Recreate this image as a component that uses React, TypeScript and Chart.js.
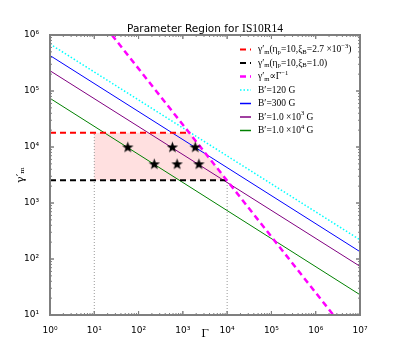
import React, { useEffect, useRef } from "react";
import { Chart, registerables } from "chart.js";
Chart.register(...registerables);

const titleMain = "Parameter Region for ";
const titleTag = "IS10R14";
const xTitle = "Γ";
const yTitle = "γ′ₘ";

const xMin = 1;
const xMax = 1e7;
const yMin = 10;
const yMax = 1e6;
const xTicks = [1, 10, 100, 1e3, 1e4, 1e5, 1e6, 1e7];
const xTickLabels = ["10⁰", "10¹", "10²", "10³", "10⁴", "10⁵", "10⁶", "10⁷"];
const yTicks = [10, 100, 1e3, 1e4, 1e5, 1e6];
const yTickLabels = ["10¹", "10²", "10³", "10⁴", "10⁵", "10⁶"];

// B' lines: endpoints at Γ = 1 and Γ = 1e7
const bLineGamma = [1, 1e7];
const b120Vals = [6.9e5, 220];
const b300Vals = [4.3e5, 135];
const b1e3Vals = [2.3e5, 74];
const b1e4Vals = [7.4e4, 23];

// γ'm ∝ Γ^-1
const invGammaX = [25, 2.5e6];
const invGammaY = [1e6, 10];

// horizontal limits
const redX = [1, 1.4e3];
const redY = [1.8e4, 1.8e4];
const blackX = [1, 1e4];
const blackY = [2.54e3, 2.54e3];

// shaded region
const regionRectX = [10, 10, 1.4e3, 1.4e3];
const regionRectY = [2.54e3, 1.8e4, 1.8e4, 2.54e3];
const regionTriX = [1.4e3, 1.4e3, 1e4];
const regionTriY = [2.54e3, 1.8e4, 2.54e3];

// vertical guides
const guideLeftX = [10, 10];
const guideLeftY = [10, 1.8e4];
const guideRightX = [1e4, 1e4];
const guideRightY = [10, 2.54e3];

// stars
const starsX = [57, 580, 1900, 226, 740, 2300];
const starsY = [1e4, 1e4, 1e4, 5e3, 5e3, 5e3];

const legendLabels = [
  "γ′_{m}(η_{p}=10,ξ_{B}=2.7 ×10^{−3})",
  "γ′_{m}(η_{p}=10,ξ_{B}=1.0)",
  "γ′_{m}∝Γ^{−1}",
  "B′=120 G",
  "B′=300 G",
  "B′=1.0 ×10^{3} G",
  "B′=1.0 ×10^{4} G",
];

const pts = (xs: number[], ys: number[]) => xs.map((x, i) => ({ x, y: ys[i] }));

function makeStar(): HTMLCanvasElement {
  const c = document.createElement("canvas");
  c.width = 13;
  c.height = 13;
  const g = c.getContext("2d")!;
  g.beginPath();
  for (let i = 0; i < 10; i++) {
    const r = i % 2 === 0 ? 6 : 2.4;
    const a = -Math.PI / 2 + (i * Math.PI) / 5;
    const px = 6.5 + r * Math.cos(a);
    const py = 7 + r * Math.sin(a);
    if (i === 0) g.moveTo(px, py);
    else g.lineTo(px, py);
  }
  g.closePath();
  g.fillStyle = "#000";
  g.fill();
  return c;
}

function drawRich(ctx: CanvasRenderingContext2D, text: string, x: number, y: number, size: number, family: string) {
  const re = /([_^])\{([^}]*)\}/g;
  const parts: { t: string; k: string }[] = [];
  let last = 0;
  let m: RegExpExecArray | null;
  while ((m = re.exec(text))) {
    if (m.index > last) parts.push({ t: text.slice(last, m.index), k: "" });
    parts.push({ t: m[2], k: m[1] });
    last = re.lastIndex;
  }
  if (last < text.length) parts.push({ t: text.slice(last), k: "" });
  let cx = x;
  for (const p of parts) {
    const s = p.k ? size * 0.7 : size;
    ctx.font = `${s}px ${family}`;
    const dy = p.k === "_" ? size * 0.28 : p.k === "^" ? -size * 0.38 : 0;
    ctx.fillText(p.t, cx, y + dy);
    cx += ctx.measureText(p.t).width;
  }
}

const framePlugin = {
  id: "frameTicksLegend",
  afterDraw(chart: any) {
    const { ctx, chartArea: a, scales } = chart;
    const xs = scales.x;
    const ys = scales.y;
    ctx.save();
    ctx.strokeStyle = "#7f7f7f";
    ctx.lineWidth = 1;
    ctx.setLineDash([]);
    const tick = (px: number, py: number, dx: number, dy: number) => {
      ctx.beginPath();
      ctx.moveTo(px, py);
      ctx.lineTo(px + dx, py + dy);
      ctx.stroke();
    };
    for (let e = 0; e < 7; e++) {
      for (let k = 1; k <= 10; k++) {
        const v = k * Math.pow(10, e);
        if (v < xMin || v > xMax) continue;
        const len = k === 1 || k === 10 ? 4 : 2;
        const px = xs.getPixelForValue(v);
        tick(px, a.bottom, 0, -len);
        tick(px, a.top, 0, len);
      }
    }
    for (let e = 1; e < 6; e++) {
      for (let k = 1; k <= 10; k++) {
        const v = k * Math.pow(10, e);
        if (v < yMin || v > yMax) continue;
        const len = k === 1 || k === 10 ? 4 : 2;
        const py = ys.getPixelForValue(v);
        tick(a.left, py, len, 0);
        tick(a.right, py, -len, 0);
      }
    }
    ctx.lineWidth = 2;
    ctx.strokeRect(a.left, a.top, a.right - a.left, a.bottom - a.top);

    // title
    ctx.fillStyle = "#000";
    ctx.textBaseline = "alphabetic";
    ctx.textAlign = "left";
    const f1 = "10.5px 'DejaVu Sans'";
    const f2 = "11.5px 'Liberation Serif'";
    ctx.font = f1;
    const w1 = ctx.measureText(titleMain).width;
    ctx.font = f2;
    const w2 = ctx.measureText(titleTag).width;
    const tx = (a.left + a.right) / 2 - (w1 + w2) / 2;
    ctx.font = f1;
    ctx.fillText(titleMain, tx, a.top - 3);
    ctx.font = f2;
    ctx.fillText(titleTag, tx + w1, a.top - 3);

    // legend
    const ds = chart.data.datasets;
    const legendSets = ds
      .filter((d: any) => d.legendIndex !== undefined)
      .sort((p: any, q: any) => p.legendIndex - q.legendIndex);
    ctx.textBaseline = "middle";
    legendSets.forEach((d: any, i: number) => {
      const y = a.top + 14.5 + i * 13.5;
      ctx.beginPath();
      ctx.strokeStyle = d.borderColor;
      ctx.lineWidth = Math.max(d.borderWidth, 1.5);
      ctx.setLineDash(d.borderDash || []);
      ctx.moveTo(a.left + 190, y);
      ctx.lineTo(a.left + 201, y);
      ctx.stroke();
      ctx.setLineDash([]);
      ctx.fillStyle = "#000";
      drawRich(ctx, legendLabels[d.legendIndex], a.left + 208, y, 9.5, "'Liberation Serif', 'DejaVu Serif', serif");
    });
    ctx.restore();
  },
};

export default function App() {
  const ref = useRef<HTMLCanvasElement>(null);
  useEffect(() => {
    if (!ref.current) return;
    const star = makeStar();
    const line = (
      label: string,
      data: any[],
      color: string,
      width: number,
      dash: number[],
      order: number,
      legendIndex?: number
    ) => ({
      label,
      data,
      showLine: true,
      borderColor: color,
      backgroundColor: color,
      borderWidth: width,
      borderDash: dash,
      pointRadius: 0,
      fill: false,
      order,
      legendIndex,
    });
    const chart = new Chart(ref.current, {
      type: "scatter",
      data: {
        datasets: [
          {
            label: "stars",
            data: pts(starsX, starsY),
            showLine: false,
            pointStyle: star as any,
            pointRadius: 6,
            order: 0,
          } as any,
          line("red", pts(redX, redY), "#ff0000", 2, [6, 4], 3, 0),
          line("black", pts(blackX, blackY), "#000000", 2, [6, 4], 3, 1),
          line("inv", pts(invGammaX, invGammaY), "#ff00ff", 2.5, [6, 4], 2, 2),
          line("B120", pts(bLineGamma, b120Vals), "#00ffff", 1.5, [1.5, 2], 4, 3),
          line("B300", pts(bLineGamma, b300Vals), "#0000ff", 1, [], 4, 4),
          line("B1e3", pts(bLineGamma, b1e3Vals), "#800080", 1, [], 4, 5),
          line("B1e4", pts(bLineGamma, b1e4Vals), "#008000", 1, [], 4, 6),
          line("guideL", pts(guideLeftX, guideLeftY), "#999999", 1, [1, 2], 5),
          line("guideR", pts(guideRightX, guideRightY), "#999999", 1, [1, 2], 5),
          {
            label: "regionRect",
            data: pts(regionRectX, regionRectY),
            showLine: true,
            borderWidth: 0,
            pointRadius: 0,
            backgroundColor: "rgba(255,0,0,0.12)",
            fill: "shape",
            order: 6,
          } as any,
          {
            label: "regionTri",
            data: pts(regionTriX, regionTriY),
            showLine: true,
            borderWidth: 0,
            pointRadius: 0,
            backgroundColor: "rgba(255,0,0,0.12)",
            fill: "shape",
            order: 6,
          } as any,
        ],
      },
      options: {
        responsive: false,
        animation: false,
        layout: { padding: { left: 0, right: 40, top: 35, bottom: 0 } },
        plugins: {
          legend: { display: false },
          tooltip: { enabled: false },
          title: { display: false },
        },
        scales: {
          x: {
            type: "logarithmic",
            min: xMin,
            max: xMax,
            afterBuildTicks: (s: any) => {
              s.ticks = xTicks.map((v) => ({ value: v }));
            },
            afterFit: (s: any) => {
              s.height = 35;
            },
            ticks: {
              autoSkip: false,
              maxRotation: 0,
              color: "#000",
              padding: 2,
              font: { family: "'DejaVu Sans'", size: 9 },
              callback: (_v: any, i: number) => xTickLabels[i],
            },
            grid: { display: false },
            border: { display: false },
            title: {
              display: true,
              text: xTitle,
              color: "#000",
              font: { family: "'DejaVu Serif'", size: 11 },
              padding: { top: 0, bottom: 9 },
            },
          },
          y: {
            type: "logarithmic",
            min: yMin,
            max: yMax,
            afterBuildTicks: (s: any) => {
              s.ticks = yTicks.map((v) => ({ value: v }));
            },
            afterFit: (s: any) => {
              s.width = 50;
            },
            ticks: {
              autoSkip: false,
              color: "#000",
              padding: 3,
              font: { family: "'DejaVu Sans'", size: 9 },
              callback: (_v: any, i: number) => yTickLabels[i],
            },
            grid: { display: false },
            border: { display: false },
            title: {
              display: true,
              text: yTitle,
              color: "#000",
              font: { family: "'DejaVu Serif'", size: 11 },
              padding: { top: 15, bottom: 0 },
            },
          },
        },
      } as any,
      plugins: [framePlugin],
    });
    return () => chart.destroy();
  }, []);
  return (
    <div style={{ position: "fixed", left: 0, top: 0, width: 400, height: 350, background: "#fff" }}>
      <canvas ref={ref} width={400} height={350} />
    </div>
  );
}
